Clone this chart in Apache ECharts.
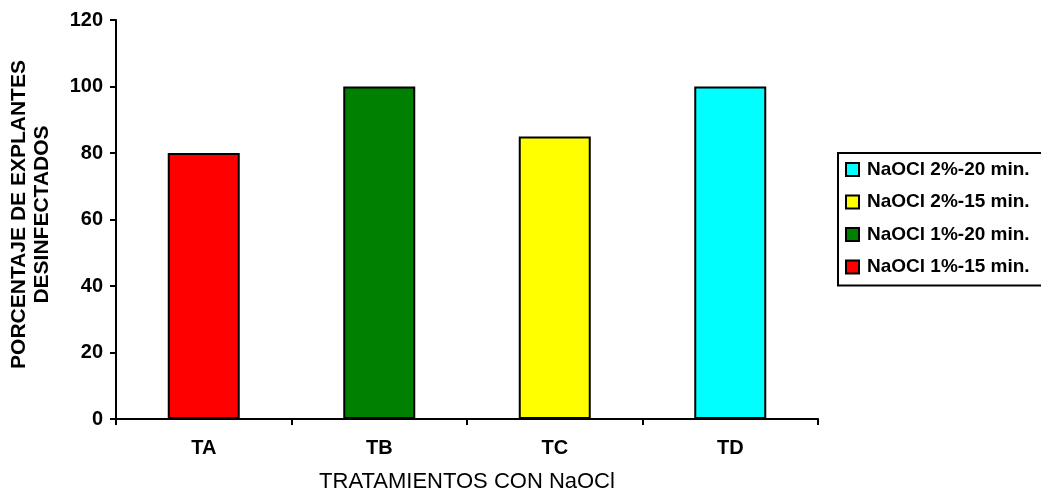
<!DOCTYPE html>
<html>
<head>
<meta charset="utf-8">
<script src="https://cdn.jsdelivr.net/npm/echarts@6/dist/echarts.min.js"></script>
<style>
  html, body { margin: 0; padding: 0; background: #fff; }
  #chart { width: 1041px; height: 495px; }
</style>
</head>
<body>
<div id="chart"></div>
<script>
// Treatments and disinfection percentages
const categories = ['TA', 'TB', 'TC', 'TD'];
const seriesNames = ['NaOCl 1%-15 min.', 'NaOCl 1%-20 min.', 'NaOCl 2%-15 min.', 'NaOCl 2%-20 min.'];
const values = [80, 100, 85, 100];
const colors = ['#ff0000', '#008000', '#ffff00', '#00ffff'];
const yTicks = [0, 20, 40, 60, 80, 100, 120];

const FONT = 'Liberation Sans, Arial, sans-serif';

// one series per treatment, each holding a value only in its own category
const series = seriesNames.map((name, i) => ({
  name: name,
  type: 'bar',
  stack: 'one',
  barWidth: 72,
  data: categories.map((c, j) => (j === i ? values[i] : '-')),
  itemStyle: { color: colors[i], borderColor: '#000', borderWidth: 2 }
}));

const chart = echarts.init(document.getElementById('chart'), null, { renderer: 'canvas' });
chart.setOption({
  animation: false,
  backgroundColor: '#fff',
  grid: { left: 116, top: 20, width: 702, height: 399, containLabel: false, outerBoundsMode: 'none' },
  legend: {
    orient: 'vertical',
    left: 838,
    top: 153,
    data: seriesNames.slice().reverse(),
    itemWidth: 13,
    itemHeight: 13,
    itemGap: 13.5,
    padding: [7, 40, 9, 7],
    borderColor: '#000',
    borderWidth: 2,
    icon: 'rect',
    textStyle: { fontFamily: FONT, fontSize: 19, fontWeight: 'bold', color: '#000', padding: [1, 0, 0, 3] }
  },
  xAxis: {
    type: 'category',
    data: categories,
    name: 'TRATAMIENTOS CON NaOCl',
    nameLocation: 'middle',
    nameGap: 52,
    nameTextStyle: { fontFamily: FONT, fontSize: 22, color: '#000' },
    axisLine: { lineStyle: { color: '#000', width: 2 } },
    axisTick: { show: true, length: 6, lineStyle: { color: '#000', width: 2 } },
    axisLabel: { fontFamily: FONT, fontSize: 20, fontWeight: 'bold', color: '#000', margin: 19 }
  },
  yAxis: {
    type: 'value',
    min: yTicks[0],
    max: yTicks[yTicks.length - 1],
    interval: 20,
    name: 'PORCENTAJE DE EXPLANTES\nDESINFECTADOS',
    nameLocation: 'middle',
    nameGap: 62,
    nameTextStyle: { fontFamily: FONT, fontSize: 21, fontWeight: 'bold', color: '#000', lineHeight: 23, padding: [0, 0, 0, 10] },
    axisLine: { show: true, lineStyle: { color: '#000', width: 2 } },
    axisTick: { show: true, length: 6, lineStyle: { color: '#000', width: 2 } },
    splitLine: { show: false },
    axisLabel: { fontFamily: FONT, fontSize: 20, fontWeight: 'bold', color: '#000', margin: 13 }
  },
  series: series
});
</script>
</body>
</html>
